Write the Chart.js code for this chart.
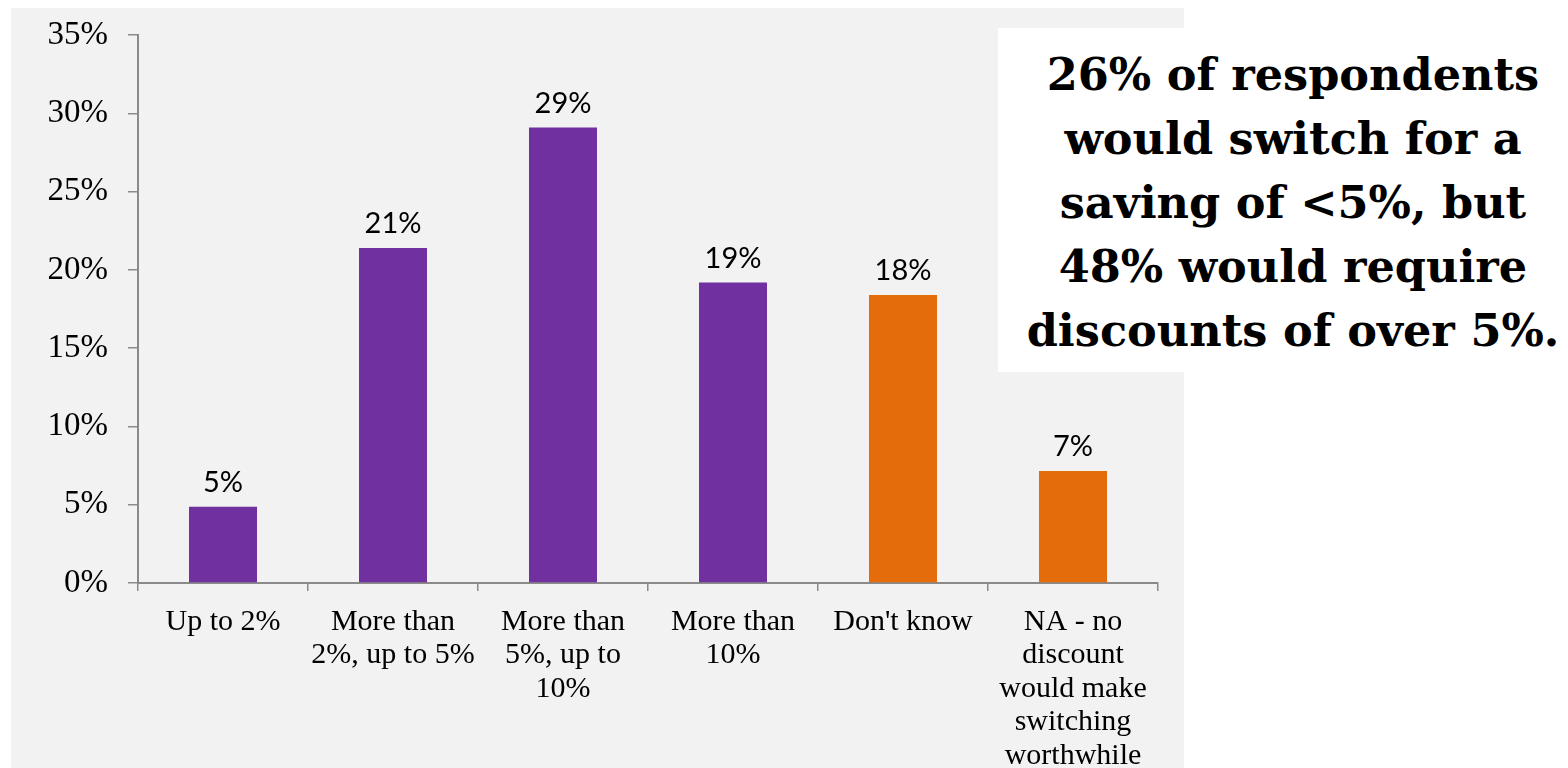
<!DOCTYPE html>
<html><head><meta charset="utf-8">
<script src="https://cdn.jsdelivr.net/npm/chart.js@4/dist/chart.umd.min.js"></script>
<style>
html,body{margin:0;padding:0;background:#fff;width:1568px;height:768px;overflow:hidden;}
#panel{position:absolute;left:11px;top:8px;width:1173px;height:760px;background:#f2f2f2;}
#note{position:absolute;left:998px;top:28px;width:550px;height:329px;padding:15px 0 0 20px;background:#fff;font-family:"DejaVu Serif";font-weight:bold;font-size:44.6px;line-height:64px;text-align:center;color:#000;white-space:nowrap;}
</style></head><body>
<div id="panel"><canvas id="c" width="1173" height="760"></canvas></div>
<div id="note">26% of respondents<br>would switch for a<br>saving of &lt;5%, but<br>48% would require<br>discounts of over 5%.</div>
<script>
const categories = [["Up to 2%"],["More than","2%, up to 5%"],["More than","5%, up to","10%"],["More than","10%"],["Don't know"],["NA - no","discount","would make","switching","worthwhile"]];
const values = [4.87, 21.4, 29.1, 19.2, 18.4, 7.15];
const barColors = ["#7030a0","#7030a0","#7030a0","#7030a0","#e46c0a","#e46c0a"];
const yTicks = [0, 5, 10, 15, 20, 25, 30, 35];

const axisColor = '#8a8a8a';

const valueLabels = {
  id: 'valueLabels',
  afterDatasetsDraw(chart) {
    const ctx = chart.ctx;
    const meta = chart.getDatasetMeta(0);
    ctx.save();
    ctx.font = '29px Lato';
    ctx.fillStyle = '#000';
    ctx.textAlign = 'center';
    ctx.textBaseline = 'middle';
    meta.data.forEach((bar, i) => {
      ctx.fillText(Math.round(values[i]) + '%', bar.x, bar.y - 24);
    });
    ctx.restore();
  }
};

function build() {
  new Chart(document.getElementById('c'), {
    type: 'bar',
    data: {
      labels: categories,
      datasets: [{
        data: values,
        backgroundColor: barColors,
        borderWidth: 0,
        barPercentage: 0.4,
        categoryPercentage: 1.0
      }]
    },
    options: {
      responsive: false,
      animation: false,
      devicePixelRatio: 1,
      layout: { padding: { top: 27, right: 26, left: 0, bottom: 0 } },
      plugins: { legend: { display: false }, tooltip: { enabled: false } },
      scales: {
        y: {
          min: 0, max: 35,
          afterBuildTicks(scale) { scale.ticks = yTicks.map(v => ({ value: v })); },
          afterFit(scale) { scale.width = 127; scale.paddingTop = 0; scale.paddingBottom = 0; },
          ticks: {
            callback: v => v + '%',
            font: { family: '"Liberation Serif"', size: 33 },
            color: '#000',
            padding: 20
          },
          grid: { drawOnChartArea: false, drawTicks: true, tickLength: 10, color: axisColor, lineWidth: 1.5 },
          border: { display: true, color: axisColor, width: 2 }
        },
        x: {
          afterFit(scale) { scale.height = 185; scale.paddingLeft = 0; scale.paddingRight = 0; },
          ticks: {
            font: { family: '"Liberation Serif"', size: 30, lineHeight: 1.12 },
            color: '#000',
            padding: 14,
            maxRotation: 0, minRotation: 0, autoSkip: false
          },
          grid: { offset: true, drawOnChartArea: false, drawTicks: true, tickLength: 8, color: axisColor, lineWidth: 1.5 },
          border: { display: true, color: axisColor, width: 2 }
        }
      }
    },
    plugins: [valueLabels]
  });
}
Promise.all([
  document.fonts.load('30px "Liberation Serif"'),
  document.fonts.load('29px Lato'),
  document.fonts.load('bold 44.6px "DejaVu Serif"')
]).then(build, build);
</script>
</body></html>
